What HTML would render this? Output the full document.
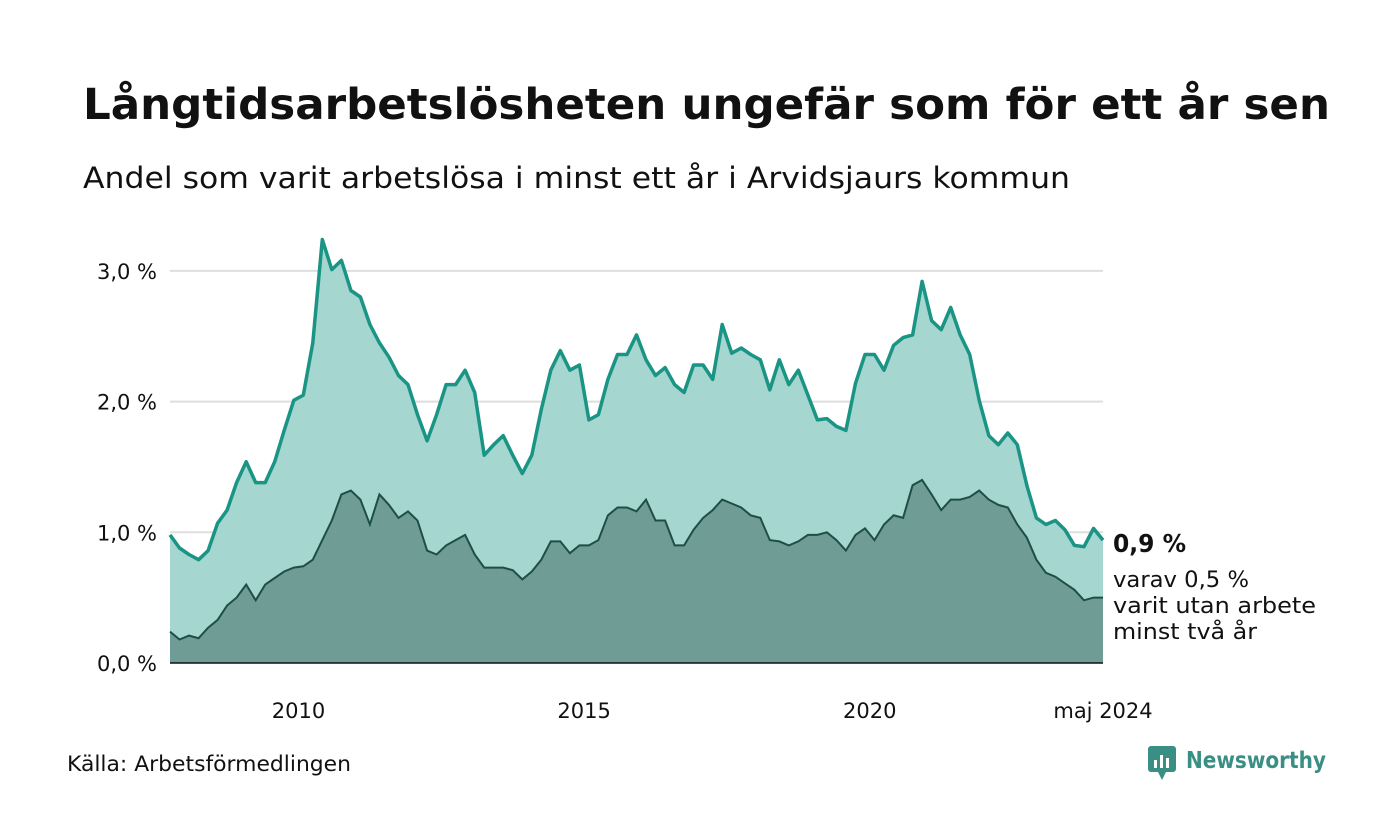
<!DOCTYPE html>
<html><head><meta charset="utf-8"><style>
body{margin:0;background:#fff;font-family:"DejaVu Sans","Liberation Sans",sans-serif;}
svg{display:block}
</style></head><body>
<svg width="1400" height="840" xmlns="http://www.w3.org/2000/svg" font-family="DejaVu Sans, Liberation Sans, sans-serif">
<text x="83" y="119" font-size="43" font-weight="bold" fill="#111" textLength="1247" lengthAdjust="spacingAndGlyphs">Långtidsarbetslösheten ungefär som för ett år sen</text>
<text x="83" y="188" font-size="29" fill="#111" textLength="987" lengthAdjust="spacingAndGlyphs">Andel som varit arbetslösa i minst ett år i Arvidsjaurs kommun</text>
<g id="grid"></g>
<g id="areas"></g>
<g id="xt"></g>
<text x="1113" y="552" font-size="25" font-weight="bold" fill="#111" textLength="73" lengthAdjust="spacingAndGlyphs">0,9 %</text>
<text font-size="22" fill="#111"><tspan x="1113" y="587" textLength="136" lengthAdjust="spacingAndGlyphs">varav 0,5 %</tspan><tspan x="1113" y="613" textLength="203" lengthAdjust="spacingAndGlyphs">varit utan arbete</tspan><tspan x="1113" y="639" textLength="144" lengthAdjust="spacingAndGlyphs">minst två år</tspan></text>
<text x="67" y="771" font-size="21" fill="#111" textLength="284" lengthAdjust="spacingAndGlyphs">Källa: Arbetsförmedlingen</text>
<g>
<rect x="1148" y="746" width="28" height="26" rx="3" fill="#3a8f85"/>
<path d="M1158 772 L1162 780 L1166 772 Z" fill="#3a8f85"/>
<rect x="1154" y="760" width="3" height="8" fill="#fff"/><rect x="1160" y="755" width="3" height="13" fill="#fff"/><rect x="1166" y="758" width="3" height="10" fill="#fff"/>
<text x="1186" y="768" font-size="23" font-weight="bold" fill="#3a8f85" textLength="140" lengthAdjust="spacingAndGlyphs">Newsworthy</text>
</g>
</svg>
<script>
const months=[];for(let k=0;k<=98;k++)months.push(k*2);
const totalShare=[0.98,0.88,0.83,0.79,0.86,1.07,1.17,1.38,1.54,1.38,1.38,1.54,1.78,2.01,2.05,2.45,3.24,3.01,3.08,2.85,2.80,2.59,2.45,2.34,2.20,2.13,1.90,1.70,1.90,2.13,2.13,2.24,2.07,1.59,1.67,1.74,1.59,1.45,1.59,1.94,2.24,2.39,2.24,2.28,1.86,1.90,2.17,2.36,2.36,2.51,2.32,2.20,2.26,2.13,2.07,2.28,2.28,2.17,2.59,2.37,2.41,2.36,2.32,2.09,2.32,2.13,2.24,2.05,1.86,1.87,1.81,1.78,2.14,2.36,2.36,2.24,2.43,2.49,2.51,2.92,2.62,2.55,2.72,2.51,2.36,2.01,1.74,1.67,1.76,1.67,1.36,1.11,1.06,1.09,1.02,0.90,0.89,1.03,0.94];
const twoYearShare=[0.24,0.18,0.21,0.19,0.27,0.33,0.44,0.50,0.60,0.48,0.60,0.65,0.70,0.73,0.74,0.79,0.94,1.09,1.29,1.32,1.25,1.06,1.29,1.21,1.11,1.16,1.09,0.86,0.83,0.90,0.94,0.98,0.83,0.73,0.73,0.73,0.71,0.64,0.70,0.79,0.93,0.93,0.84,0.90,0.90,0.94,1.13,1.19,1.19,1.16,1.25,1.09,1.09,0.90,0.90,1.02,1.11,1.17,1.25,1.22,1.19,1.13,1.11,0.94,0.93,0.90,0.93,0.98,0.98,1.00,0.94,0.86,0.98,1.03,0.94,1.06,1.13,1.11,1.36,1.40,1.29,1.17,1.25,1.25,1.27,1.32,1.25,1.21,1.19,1.06,0.96,0.79,0.69,0.66,0.61,0.56,0.48,0.50,0.50];
const yTicks=[0,1,2,3];
const yTickLabels=["0,0 %","1,0 %","2,0 %","3,0 %"];
const xTickMonths=[27,87,147,196];
const xTickLabels=["2010","2015","2020","maj 2024"];
const NS="http://www.w3.org/2000/svg";
const X=m=>170+m*(933/196);
const Y=v=>663-v*130.7;
function el(t,a,p){const e=document.createElementNS(NS,t);for(const k in a)e.setAttribute(k,a[k]);p.appendChild(e);return e;}
const grid=document.getElementById('grid'),areas=document.getElementById('areas'),xt=document.getElementById('xt');
yTicks.forEach((v,i)=>{
 if(v>0){const l=el('line',{x1:170,x2:1103,y1:Y(v),y2:Y(v),stroke:'#dedede','stroke-width':2},grid);
 
 }
 const t=el('text',{x:157,y:Y(v)+8,'text-anchor':'end','font-size':21,fill:'#111'},grid);t.textContent=yTickLabels[i];
 
 
});
function paths(vals){const pts=vals.map((v,i)=>X(months[i]).toFixed(1)+','+Y(v).toFixed(1));
 return {line:'M'+pts.join('L'),area:'M'+X(months[0])+','+Y(0)+'L'+pts.join('L')+'L'+X(months[months.length-1])+','+Y(0)+'Z'};}
const a=paths(totalShare),b=paths(twoYearShare);
const aa=el('path',{d:a.area,fill:'#a5d6d0'},areas);


const ba=el('path',{d:b.area,fill:'#6f9d96'},areas);


const bl=el('path',{d:b.line,fill:'none',stroke:'#1f4e47','stroke-width':2},areas);


const al=el('path',{d:a.line,fill:'none',stroke:'#1a9484','stroke-width':3.5,'stroke-linejoin':'round'},areas);


const base=el('line',{x1:170,x2:1103,y1:Y(0),y2:Y(0),stroke:'#111','stroke-width':1.5},areas);


xTickMonths.forEach((m,i)=>{const t=el('text',{x:X(m),y:718,'text-anchor':'middle','font-size':21,fill:'#111'},xt);t.textContent=xTickLabels[i];
 
 });
</script>
</body></html>
